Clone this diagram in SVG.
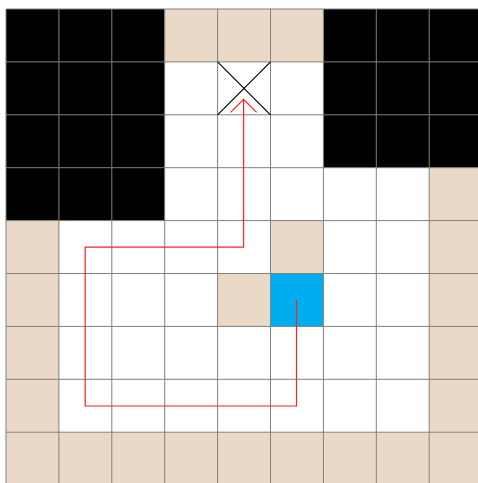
<svg xmlns="http://www.w3.org/2000/svg" width="478" height="483" viewBox="0 0 478 483">
  <style>
    .tan{fill:#EAD9C6}
    .blk{fill:#000000}
    .blue{fill:#00AEEF}
    .grid{stroke:#808080;stroke-width:1;fill:none}
    .route{stroke:#FF2020;stroke-width:1.2;fill:none}
    .x{stroke:#000;stroke-width:1.2}
  </style>
  <defs>
    <marker id="arr" markerWidth="30" markerHeight="20" refX="13" refY="14" orient="auto" markerUnits="userSpaceOnUse" viewBox="0 0 30 20">
      <path d="M0,1 L13,14 L26,1" transform="translate(0,0)" fill="none" stroke="#FF2020" stroke-width="1.2"/>
    </marker>
  </defs>
  <rect width="478" height="483" fill="#ffffff"/>
  <g id="cells">
    <rect class="blk" x="6" y="9" width="158.7" height="211.6"/>
    <rect class="blk" x="323.4" y="9" width="158.7" height="158.7"/>
    <rect class="tan" x="164.7" y="9" width="158.7" height="52.9"/>
    <rect class="tan" x="429.2" y="167.7" width="52.9" height="264.5"/>
    <rect class="tan" x="6" y="220.6" width="52.9" height="211.6"/>
    <rect class="tan" x="6" y="432.2" width="476.1" height="52.9"/>
    <rect class="tan" x="270.5" y="220.6" width="52.9" height="52.9"/>
    <rect class="tan" x="217.6" y="273.5" width="52.9" height="52.9"/>
    <rect class="blue" x="270.5" y="273.5" width="52.9" height="52.9"/>
  </g>
  <g id="grid" class="grid">
    <path d="M6,9V483 M58.9,9V483 M111.8,9V483 M164.7,9V483 M217.6,9V483 M270.5,9V483 M323.4,9V483 M376.3,9V483 M429.2,9V483"/>
    <path d="M6,9H478 M6,61.9H478 M6,114.8H478 M6,167.7H478 M6,220.6H478 M6,273.5H478 M6,326.4H478 M6,379.3H478 M6,432.2H478"/>
  </g>
  <g id="goal">
    <line class="x" x1="217.6" y1="61.9" x2="270.5" y2="114.8"/>
    <line class="x" x1="270.5" y1="61.9" x2="217.6" y2="114.8"/>
  </g>
  <g id="connectors">
    <path class="route" d="M296.5,300 V406 H85.2 V247.2 H243.6 V99.5"/>
    <path d="M230.6,112.4 L243.6,99.4 L256.6,112.4" fill="none" stroke="#FF2020" stroke-width="1.2"/>
  </g>
</svg>
